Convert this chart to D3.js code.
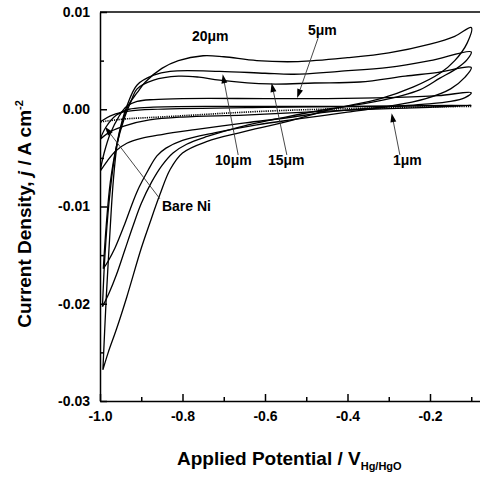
<!DOCTYPE html>
<html>
<head>
<meta charset="utf-8">
<script src="https://cdn.jsdelivr.net/npm/d3@7"></script>
<style>
  body { margin: 0; background: #fff; }
  text { font-family: "Liberation Sans", Arial, sans-serif; font-weight: bold; fill: #000; }
</style>
</head>
<body>
<div id="chart"></div>
<script>
// axis ticks
const xTicks = [-1.0, -0.8, -0.6, -0.4, -0.2];
const xMinor = [-0.9, -0.7, -0.5, -0.3, -0.1];
const yTicks = [0.01, 0.00, -0.01, -0.02, -0.03];
const yMinor = [0.005, -0.005, -0.015, -0.025];

// CV loops: [potential V vs Hg/HgO, current density A cm-2]
// "up" = sweep towards positive potential, "down" = sweep back
const bareNiUp = [[-1.0, -0.0013], [-0.97, -0.0006], [-0.93, -0.0002], [-0.86, 0.0000], [-0.6, 0.0002], [-0.3, 0.0003], [-0.1, 0.0004]];
const bareNiDown = [[-0.1, 0.0003], [-0.37, 0.0001], [-0.6, -0.0002], [-0.855, -0.0008], [-0.94, -0.0010], [-1.0, -0.0013]];

const um1Up = [[-1.0, -0.0031], [-0.985, -0.0018], [-0.96, -0.0006], [-0.93, 0.0000], [-0.88, 0.0002], [-0.7, 0.0003], [-0.4, 0.0003], [-0.1, 0.0004]];
const um1Down = [[-0.1, 0.0004], [-0.2, 0.0002], [-0.35, 0.0000], [-0.5, -0.0003], [-0.65, -0.0006], [-0.8, -0.0008], [-0.88, -0.0011], [-0.94, -0.0017], [-0.975, -0.0023], [-1.0, -0.0031]];

const um5Up = [[-1.0, -0.0064], [-0.99, -0.0045], [-0.975, -0.0025], [-0.955, -0.0008], [-0.935, 0.0003], [-0.91, 0.0008], [-0.87, 0.0010], [-0.80, 0.0011], [-0.60, 0.0011], [-0.45, 0.0011], [-0.30, 0.0012], [-0.18, 0.0014], [-0.10, 0.0017]];
const um5Down = [[-0.10, 0.0017], [-0.115, 0.0012], [-0.15, 0.0008], [-0.22, 0.0005], [-0.32, 0.0002], [-0.45, -0.0003], [-0.55, -0.0009], [-0.648, -0.0014], [-0.77, -0.0021], [-0.85, -0.0026], [-0.90, -0.0030], [-0.935, -0.0035], [-0.962, -0.0043], [-0.982, -0.0053], [-1.0, -0.0064]];

const um10Up = [[-0.994, -0.0203], [-0.988, -0.0150], [-0.978, -0.0095], [-0.965, -0.0050], [-0.95, -0.0018], [-0.935, 0.0003], [-0.91, 0.0025], [-0.87, 0.0035], [-0.83, 0.0039], [-0.71, 0.0039], [-0.60, 0.0037], [-0.53, 0.0036], [-0.42, 0.0039], [-0.30, 0.0043], [-0.20, 0.0050], [-0.10, 0.0059]];
const um10Down = [[-0.10, 0.0059], [-0.11, 0.0051], [-0.135, 0.0042], [-0.176, 0.0032], [-0.225, 0.0020], [-0.33, 0.0008], [-0.45, 0.0000], [-0.55, -0.0008], [-0.66, -0.0018], [-0.74, -0.0028], [-0.79, -0.0036], [-0.823, -0.0045], [-0.85, -0.0058], [-0.875, -0.0075], [-0.90, -0.0097], [-0.92, -0.0120], [-0.94, -0.0145], [-0.96, -0.0170], [-0.978, -0.0189], [-0.994, -0.0203]];

const um15Up = [[-0.992, -0.0164], [-0.985, -0.0120], [-0.975, -0.0075], [-0.96, -0.0038], [-0.94, -0.0008], [-0.925, 0.0008], [-0.91, 0.0021], [-0.87, 0.0030], [-0.81, 0.0034], [-0.76, 0.0033], [-0.71, 0.0030], [-0.59, 0.0026], [-0.48, 0.0027], [-0.37, 0.0028], [-0.26, 0.0034], [-0.18, 0.0038], [-0.10, 0.0043]];
const um15Down = [[-0.10, 0.0043], [-0.115, 0.0033], [-0.15, 0.0021], [-0.21, 0.0011], [-0.30, 0.0003], [-0.40, -0.0003], [-0.52, -0.0010], [-0.62, -0.0016], [-0.72, -0.0024], [-0.80, -0.0032], [-0.84, -0.0040], [-0.862, -0.0048], [-0.885, -0.0064], [-0.905, -0.0080], [-0.92, -0.0095], [-0.94, -0.0118], [-0.964, -0.0143], [-0.98, -0.0156], [-0.992, -0.0164]];

const um20Up = [[-0.993, -0.0268], [-0.985, -0.0195], [-0.977, -0.0135], [-0.968, -0.0075], [-0.958, -0.0035], [-0.945, -0.0012], [-0.93, 0.0005], [-0.91, 0.0017], [-0.89, 0.0028], [-0.85, 0.0042], [-0.81, 0.0050], [-0.75, 0.0055], [-0.70, 0.0054], [-0.62, 0.0050], [-0.52, 0.0049], [-0.40, 0.0053], [-0.30, 0.0058], [-0.20, 0.0067], [-0.14, 0.0075], [-0.10, 0.0084]];
const um20Down = [[-0.10, 0.0084], [-0.11, 0.0068], [-0.14, 0.0050], [-0.176, 0.0037], [-0.24, 0.0023], [-0.32, 0.0011], [-0.44, 0.0000], [-0.54, -0.0012], [-0.66, -0.0024], [-0.74, -0.0033], [-0.80, -0.0045], [-0.83, -0.0062], [-0.855, -0.0088], [-0.88, -0.0118], [-0.90, -0.0143], [-0.935, -0.0193], [-0.96, -0.0226], [-0.98, -0.0250], [-0.993, -0.0268]];

const series = [
  { name: "Bare Ni", up: bareNiUp, down: bareNiDown, dotted: true },
  { name: "1μm", up: um1Up, down: um1Down },
  { name: "5μm", up: um5Up, down: um5Down },
  { name: "10μm", up: um10Up, down: um10Down },
  { name: "15μm", up: um15Up, down: um15Down },
  { name: "20μm", up: um20Up, down: um20Down }
];

// labels with arrow (text anchor point, arrow start, arrow tip) in data units
const labels = [
  { text: "20μm", at: [-0.777, 0.0070] },
  { text: "5μm", at: [-0.496, 0.0076], from: [-0.4715, 0.0073], to: [-0.522, 0.00116] },
  { text: "10μm", at: [-0.721, -0.0057], from: [-0.665, -0.0047], to: [-0.7025, 0.0036] },
  { text: "15μm", at: [-0.593, -0.0057], from: [-0.547, -0.0047], to: [-0.584, 0.0027] },
  { text: "1μm", at: [-0.290, -0.0057], from: [-0.273, -0.0047], to: [-0.293, -0.0004] },
  { text: "Bare Ni", at: [-0.850, -0.0105], from: [-0.855, -0.0092], to: [-0.988, -0.0018] }
];

const W = 480, H = 478;
const mLeft = 100, mTop = 12, mBottom = 401;

const svg = d3.select('#chart')
  .append('svg')
    .attr('width', W)
    .attr('height', H);

const x = d3.scaleLinear().domain([-1.0, -0.075]).range([mLeft, mLeft + 0.925 * 412.5]);
const y = d3.scaleLinear().domain([-0.03, 0.01]).range([mBottom, mTop]);

svg.append('clipPath').attr('id', 'plot')
  .append('rect')
    .attr('x', mLeft).attr('y', mTop)
    .attr('width', x.range()[1] - mLeft).attr('height', mBottom - mTop);

const line = d3.line()
  .x(d => x(d[0]))
  .y(d => y(d[1]))
  .curve(d3.curveCatmullRom.alpha(0.5));

const curves = svg.append('g').attr('clip-path', 'url(#plot)');

series.forEach(s => {
  if (s.dotted) {
    curves.append('path')
      .attr('d', line(s.up))
      .attr('fill', 'none').attr('stroke', '#000').attr('stroke-width', 1.2);
    curves.append('path')
      .attr('d', line(s.down))
      .attr('fill', 'none').attr('stroke', '#000').attr('stroke-width', 1.6)
      .attr('stroke-dasharray', '1.2,1');
  } else {
    curves.append('path')
      .attr('d', line(s.up.concat(s.down.slice(1))))
      .attr('fill', 'none').attr('stroke', '#000').attr('stroke-width', 1.3);
  }
});

// axes
svg.append('g')
  .attr('transform', 'translate(0,' + mBottom + ')')
  .call(d3.axisBottom(x).tickValues(xTicks).tickSizeInner(-7).tickSizeOuter(0).tickPadding(10)
    .tickFormat(d => d.toFixed(1)));
svg.append('g')
  .attr('transform', 'translate(0,' + mBottom + ')')
  .call(d3.axisBottom(x).tickValues(xMinor).tickSizeInner(-4).tickSizeOuter(0).tickFormat(''))
  .select('.domain').remove();

svg.append('g')
  .attr('transform', 'translate(' + mLeft + ',0)')
  .call(d3.axisLeft(y).tickValues(yTicks).tickSizeInner(-7).tickSizeOuter(0).tickPadding(10)
    .tickFormat(d => d.toFixed(2)));
svg.append('g')
  .attr('transform', 'translate(' + mLeft + ',0)')
  .call(d3.axisLeft(y).tickValues(yMinor).tickSizeInner(-4).tickSizeOuter(0).tickFormat(''))
  .select('.domain').remove();

svg.selectAll('.domain, .tick line').attr('stroke', '#000').attr('stroke-width', 1.5);
svg.selectAll('.tick text').style('font-size', '14px').style('font-weight', 'bold')
  .style('font-family', '"Liberation Sans", Arial, sans-serif');

// top frame
svg.append('line')
  .attr('x1', mLeft).attr('x2', x.range()[1])
  .attr('y1', mTop).attr('y2', mTop)
  .attr('stroke', '#000').attr('stroke-width', 1.5);

// axis titles
const xt = svg.append('text')
  .attr('x', 177).attr('y', 465)
  .style('font-size', '19px');
xt.append('tspan').text('Applied Potential / V');
xt.append('tspan').attr('dy', 5).style('font-size', '11px').text('Hg/HgO');

const yt = svg.append('text')
  .attr('transform', 'translate(31,214) rotate(-90)')
  .attr('text-anchor', 'middle')
  .style('font-size', '19px');
yt.append('tspan').text('Current Density, ');
yt.append('tspan').style('font-style', 'italic').text('j');
yt.append('tspan').text(' / A cm');
yt.append('tspan').attr('dy', -8).style('font-size', '11px').text('-2');

// annotations
const ann = svg.append('g');
labels.forEach(l => {
  ann.append('text')
    .attr('x', x(l.at[0])).attr('y', y(l.at[1]))
    .style('font-size', '14px')
    .text(l.text);
  if (l.from) {
    const x0 = x(l.from[0]), y0 = y(l.from[1]);
    const x1 = x(l.to[0]), y1 = y(l.to[1]);
    const a = Math.atan2(y1 - y0, x1 - x0);
    const len = 9, hw = 3;
    const bx = x1 - len * Math.cos(a), by = y1 - len * Math.sin(a);
    ann.append('line')
      .attr('x1', x0).attr('y1', y0).attr('x2', bx).attr('y2', by)
      .attr('stroke', '#333').attr('stroke-width', 0.9);
    ann.append('path')
      .attr('d', 'M' + x1 + ',' + y1 +
        'L' + (bx + hw * Math.sin(a)) + ',' + (by - hw * Math.cos(a)) +
        'L' + (bx - hw * Math.sin(a)) + ',' + (by + hw * Math.cos(a)) + 'Z')
      .attr('fill', '#000');
  }
});
</script>
</body>
</html>
